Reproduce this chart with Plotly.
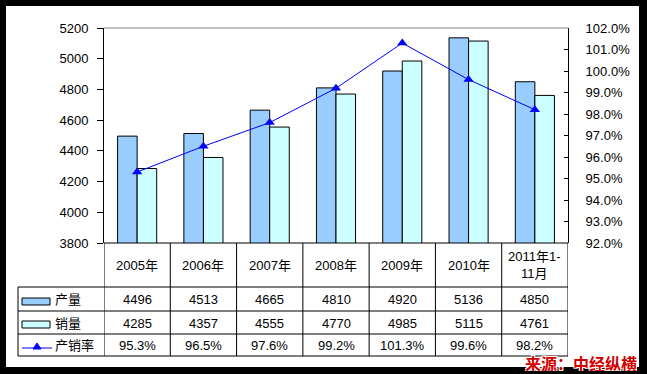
import plotly.graph_objects as go

categories = ["2005年", "2006年", "2007年", "2008年", "2009年", "2010年", "2011年1-<br>11月"]
production = [4496, 4513, 4665, 4810, 4920, 5136, 4850]
sales = [4285, 4357, 4555, 4770, 4985, 5115, 4761]
ratio = [95.3, 96.5, 97.6, 99.2, 101.3, 99.6, 98.2]
series_names = ["产量", "销量", "产销率"]
source_text = "来源：中经纵横"

W, H = 647, 374
L, R, T, B = 104, 568, 28, 243
FONT = "Liberation Sans, Arial, Noto Sans CJK SC, sans-serif"

def px(p):
    return (p - L) / (R - L)

def py(p):
    return (B - p) / (B - T)

n = len(categories)
idx = list(range(n))

fig = go.Figure()
fig.add_trace(go.Bar(x=idx, y=production, name=series_names[0], yaxis="y",
                     marker=dict(color="#99CCFF", line=dict(color="black", width=1))))
fig.add_trace(go.Bar(x=idx, y=sales, name=series_names[1], yaxis="y",
                     marker=dict(color="#CCFFFF", line=dict(color="black", width=1))))
fig.add_trace(go.Scatter(x=idx, y=ratio, name=series_names[2], yaxis="y2", mode="lines+markers",
                         line=dict(color="#0000FF", width=1),
                         marker=dict(symbol="triangle-up", size=9, color="#0000FF")))

shapes = []
line_k = dict(color="black", width=1)
# table horizontal lines
for yy in [287, 311, 334, 356]:
    shapes.append(dict(type="line", xref="paper", yref="paper", x0=px(18), x1=1, y0=py(yy), y1=py(yy), line=line_k))
# plot bottom line
shapes.append(dict(type="line", xref="paper", yref="paper", x0=0, x1=1, y0=0, y1=0, line=line_k))
# vertical lines
shapes.append(dict(type="line", xref="paper", yref="paper", x0=px(18), x1=px(18), y0=py(287), y1=py(356), line=line_k))
for k in range(n + 1):
    shapes.append(dict(type="line", xref="x", yref="paper", x0=k - 0.5, x1=k - 0.5, y0=py(243), y1=py(356), line=line_k))
# top gray border
shapes.append(dict(type="line", xref="paper", yref="paper", x0=0, x1=1, y0=1, y1=1, line=dict(color="#808080", width=1)))
# legend keys
shapes.append(dict(type="rect", xref="paper", yref="paper", x0=px(22), x1=px(50), y0=py(298), y1=py(305),
                   fillcolor="#99CCFF", line=line_k))
shapes.append(dict(type="rect", xref="paper", yref="paper", x0=px(22), x1=px(50), y0=py(321), y1=py(328),
                   fillcolor="#CCFFFF", line=line_k))
shapes.append(dict(type="line", xref="paper", yref="paper", x0=px(22), x1=px(52), y0=py(348), y1=py(348),
                   line=dict(color="#0000FF", width=1)))
tri = f"M {px(33)},{py(349)} L {px(41)},{py(349)} L {px(37)},{py(343)} Z"
shapes.append(dict(type="path", xref="paper", yref="paper", path=tri, fillcolor="#0000FF",
                   line=dict(color="#0000FF", width=1)))
# black frame
blk = dict(color="black", width=0)
shapes.append(dict(type="rect", xref="paper", yref="paper", x0=px(0), x1=px(W), y0=py(0), y1=py(6), fillcolor="black", line=blk, layer="above"))
shapes.append(dict(type="rect", xref="paper", yref="paper", x0=px(0), x1=px(W), y0=py(367), y1=py(H), fillcolor="black", line=blk, layer="above"))
shapes.append(dict(type="rect", xref="paper", yref="paper", x0=px(0), x1=px(6), y0=py(0), y1=py(H), fillcolor="black", line=blk, layer="above"))
shapes.append(dict(type="rect", xref="paper", yref="paper", x0=px(639), x1=px(W), y0=py(0), y1=py(H), fillcolor="black", line=blk, layer="above"))

annotations = []
tf = dict(family=FONT, size=13, color="black")
row_y = [265, 299, 322.5, 345]
cell = dict(showarrow=False, font=tf, xanchor="center", yanchor="middle", borderpad=0)
for k in range(n):
    annotations.append(dict(x=k, xref="x", y=py(row_y[0]), yref="paper", text=categories[k], **cell))
    annotations.append(dict(x=k, xref="x", y=py(row_y[1]), yref="paper", text=str(production[k]), height=14, **cell))
    annotations.append(dict(x=k, xref="x", y=py(row_y[2]), yref="paper", text=str(sales[k]), height=14, **cell))
    annotations.append(dict(x=k, xref="x", y=py(row_y[3]), yref="paper", text=f"{ratio[k]:.1f}%", height=14, **cell))
for i, nm in enumerate(series_names):
    annotations.append(dict(x=px(54), xref="paper", y=py(row_y[i + 1]), yref="paper", text=nm, showarrow=False,
                            font=tf, xanchor="left", yanchor="middle", height=14, borderpad=0))
annotations.append(dict(x=px(581), xref="paper", y=py(363), yref="paper", text=f"<b>{source_text}</b>", showarrow=False,
                        font=dict(family="Noto Sans CJK SC", size=16, color="#D40000",
                                  shadow="1px 1px 0 #fff, -1px -1px 0 #fff, 1px -1px 0 #fff, -1px 1px 0 #fff"),
                        xanchor="center", yanchor="middle", height=16, borderpad=0))

fig.update_layout(
    width=W, height=H,
    margin=dict(l=L, r=W - R, t=T, b=H - B, pad=0),
    paper_bgcolor="white", plot_bgcolor="white",
    showlegend=False,
    barmode="group", bargap=0.41, bargroupgap=0,
    font=dict(family=FONT, size=13, color="black"),
    xaxis=dict(range=[-0.5, n - 0.5], showticklabels=False, ticks="", showgrid=False, zeroline=False,
               showline=False, fixedrange=True),
    yaxis=dict(range=[3800, 5200], dtick=200, tick0=3800, showgrid=False, zeroline=False,
               showline=True, linecolor="black", linewidth=1, ticks="outside", ticklen=6,
               tickcolor="black", ticklabelstandoff=6, tickfont=dict(family=FONT, size=13, color="black")),
    yaxis2=dict(range=[92, 102], dtick=1, tick0=92, overlaying="y", side="right", showgrid=False,
                zeroline=False, showline=True, linecolor="black", linewidth=1, ticks="inside", ticklen=4,
                tickcolor="black", tickformat=".1f", ticksuffix="%", ticklabelstandoff=14,
                tickfont=dict(family=FONT, size=13, color="black")),
    shapes=shapes, annotations=annotations,
)
fig.update_xaxes(type="linear")
fig.write_html("out.html", config={"displayModeBar": False},
               post_script="document.body.style.margin='0';document.body.style.overflow='hidden';")
